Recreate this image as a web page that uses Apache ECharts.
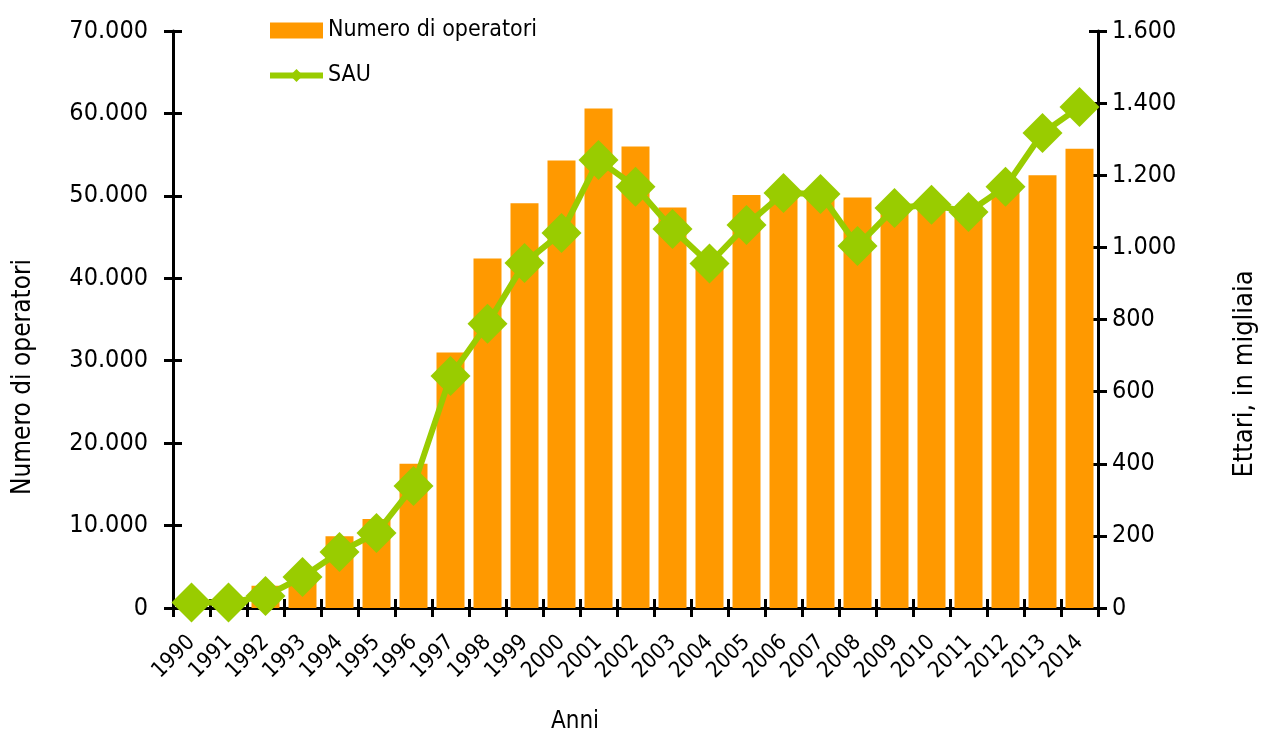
<!DOCTYPE html>
<html><head><meta charset="utf-8">
<script src="https://cdn.jsdelivr.net/npm/echarts@6/dist/echarts.min.js"></script>
<style>html,body{margin:0;padding:0;background:#fff}#c{width:1263px;height:736px}</style>
</head><body><div id="c"></div>
<script>
const years = ['1990','1991','1992','1993','1994','1995','1996','1997','1998','1999','2000','2001','2002','2003','2004','2005','2006','2007','2008','2009','2010','2011','2012','2013','2014'];
const operatori = [300, 1200, 2700, 4300, 8700, 10800, 17500, 31000, 42400, 49100, 54300, 60600, 56000, 48600, 41500, 50100, 50200, 50000, 49800, 48000, 48300, 47500, 50800, 52500, 55700];
const sau = [15, 15, 33, 86, 155, 208, 338, 643, 788, 957, 1040, 1242, 1168, 1051, 955, 1062, 1151, 1148, 1004, 1109, 1118, 1098, 1168, 1317, 1389];
const leftTicks = {min: 0, max: 70000, interval: 10000};
const rightTicks = {min: 0, max: 1600, interval: 200};

const FONT = '"DejaVu Sans Condensed", "DejaVu Sans"';
const fmt = v => String(v).replace(/\B(?=(\d{3})+(?!\d))/g, '.');
const axisLine = {show: true, lineStyle: {color: '#000', width: 3}};
const chart = echarts.init(document.getElementById('c'));
chart.setOption({
  animation: false,
  backgroundColor: '#fff',
  grid: {left: 173, right: 165, top: 31, bottom: 128, containLabel: false},
  legend: {
    orient: 'vertical', left: 262, top: 14, itemWidth: 53, itemHeight: 16, itemGap: 22,
    textStyle: {fontFamily: FONT, fontSize: 23, color: '#000'},
    lineStyle: {width: 6},
    data: [{name: 'Numero di operatori', icon: 'rect'}, {name: 'SAU'}]
  },
  xAxis: [{
    type: 'category', data: years, boundaryGap: true,
    axisLine: axisLine,
    axisTick: {show: true, length: 9, lineStyle: {width: 3, color: '#000'}},
    axisLabel: {rotate: 45, fontFamily: FONT, fontSize: 22, color: '#000', margin: 31, interval: 0},
    splitLine: {show: false}
  }, {
    type: 'category', data: years, position: 'bottom', boundaryGap: true,
    axisLine: {show: false}, axisLabel: {show: false},
    axisTick: {show: true, inside: true, length: 9, lineStyle: {width: 3, color: '#000'}},
    splitLine: {show: false}
  }],
  yAxis: [{
    type: 'value', position: 'left', min: leftTicks.min, max: leftTicks.max, interval: leftTicks.interval,
    axisLine: axisLine,
    axisTick: {show: true, length: 9, lineStyle: {width: 3, color: '#000'}},
    axisLabel: {fontFamily: FONT, fontSize: 25, color: '#000', margin: 25, formatter: fmt},
    splitLine: {show: false}
  }, {
    type: 'value', position: 'right', min: rightTicks.min, max: rightTicks.max, interval: rightTicks.interval,
    axisLine: axisLine,
    axisTick: {show: true, length: 9, lineStyle: {width: 3, color: '#000'}},
    axisLabel: {fontFamily: FONT, fontSize: 25, color: '#000', margin: 14, formatter: fmt},
    splitLine: {show: false}
  }, {
    type: 'value', position: 'left', min: leftTicks.min, max: leftTicks.max, interval: leftTicks.interval,
    axisLine: {show: false}, axisLabel: {show: false},
    axisTick: {show: true, inside: true, length: 9, lineStyle: {width: 3, color: '#000'}},
    splitLine: {show: false}
  }, {
    type: 'value', position: 'right', min: rightTicks.min, max: rightTicks.max, interval: rightTicks.interval,
    axisLine: {show: false}, axisLabel: {show: false},
    axisTick: {show: true, inside: true, length: 9, lineStyle: {width: 3, color: '#000'}},
    splitLine: {show: false}
  }],
  graphic: [
    {type: 'text', x: 23, y: 377, rotation: Math.PI / 2, style: {text: 'Numero di operatori', font: '26px "DejaVu Sans Condensed", "DejaVu Sans"', fill: '#000', textAlign: 'center', textVerticalAlign: 'middle'}},
    {type: 'text', x: 1245, y: 374, rotation: Math.PI / 2, style: {text: 'Ettari, in migliaia', font: '27px "DejaVu Sans Condensed", "DejaVu Sans"', fill: '#000', textAlign: 'center', textVerticalAlign: 'middle'}},
    {type: 'text', x: 575, y: 722, style: {text: 'Anni', font: '24px "DejaVu Sans Condensed", "DejaVu Sans"', fill: '#000', textAlign: 'center', textVerticalAlign: 'middle'}}
  ],
  series: [{
    name: 'Numero di operatori', type: 'bar', data: operatori, xAxisIndex: 0, yAxisIndex: 0,
    barWidth: 28, itemStyle: {color: '#FF9900'}
  }, {
    name: 'SAU', type: 'line', data: sau, xAxisIndex: 0, yAxisIndex: 1,
    symbol: 'diamond', symbolSize: 40, showAllSymbol: true,
    lineStyle: {color: '#99CC00', width: 6}, itemStyle: {color: '#99CC00'}
  }]
});
</script></body></html>
